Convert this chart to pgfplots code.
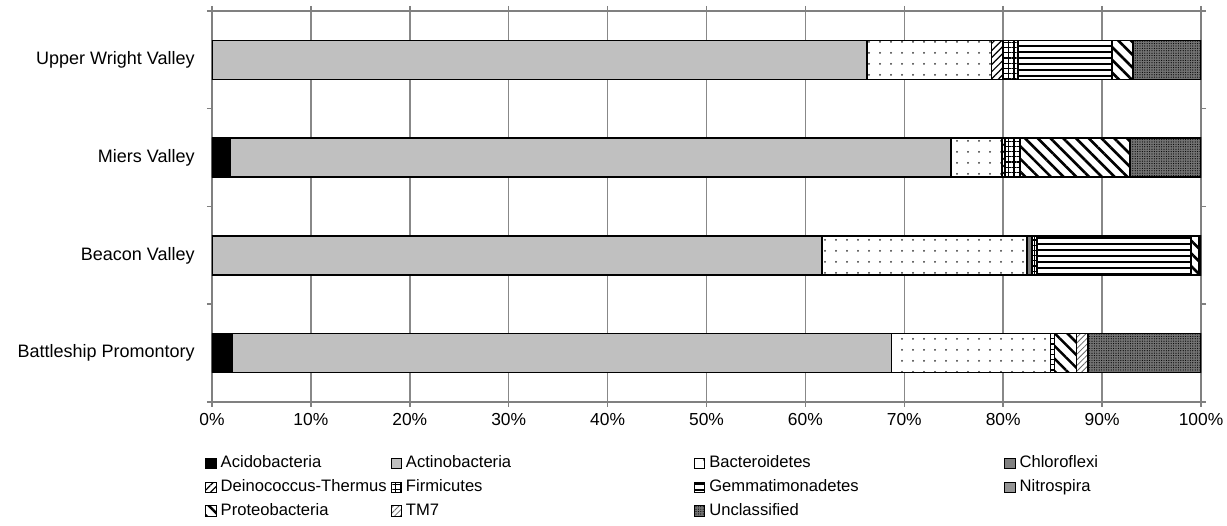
\documentclass[border=0pt]{standalone}
\usepackage{fontspec}
\setmainfont{Liberation Sans}
\usepackage{pgfplots}
\pgfplotsset{compat=1.18}
\usetikzlibrary{patterns,patterns.meta}
\definecolor{axisgray}{HTML}{808080}
\definecolor{gridgray}{HTML}{888888}
\definecolor{actino}{HTML}{C0C0C0}
\pgfplotsset{
  mybar/.style={draw=black, line width=0.8pt,
    legend image code/.code={\draw[##1, line width=0.5pt] (0pt,-2.6pt) rectangle (5.2pt,2.6pt); \path (7pt,0pt);}},
}
\begin{document}
\begin{tikzpicture}
\begin{axis}[name=ax,
  xbar stacked, scale only axis, width=494.5pt, height=195.5pt,
  xmin=0, xmax=100, ymin=-0.5, ymax=3.5, bar width=0.4,
  axis line style={draw=axisgray, line width=0.75pt},
  xtick={0,10,...,100},
  xticklabels={0\%,10\%,20\%,30\%,40\%,50\%,60\%,70\%,80\%,90\%,100\%},
  xticklabel style={font=\fontsize{8.7}{10}\selectfont, inner sep=0pt, yshift=-3pt},
  tick align=outside, major tick length=2.5pt,
  tick style={draw=axisgray, line width=0.75pt},
  xmajorgrids, major grid style={draw=gridgray, line width=0.75pt},
  ytick={-0.5,0.5,1.5,2.5,3.5}, yticklabels={},
  extra y ticks={0,1,2,3},
  extra y tick labels={Battleship Promontory, Beacon Valley, Miers Valley, Upper Wright Valley},
  extra y tick style={major tick length=0pt, grid=none,
    yticklabel style={font=\fontsize{9}{11}\selectfont, inner sep=0pt, xshift=-8.5pt}},
  legend columns=4, legend cell align=left,
  legend style={at={(0,0)}, anchor=north west, xshift=-3.5pt, yshift=-26.5pt,
    draw=none, inner sep=0pt, row sep=3.7pt, column sep=0pt,
    font=\fontsize{8.3}{10}\selectfont,
    nodes={inner sep=0pt, text height=6.3pt, text depth=1.9pt}},
]
% Acidobacteria
\addplot[mybar, fill=black] coordinates {(2.0,0) (0,1) (1.8,2) (0,3)};
\addlegendentry{\makebox[85pt][l]{Acidobacteria}}
% Actinobacteria
\addplot[mybar, fill=actino] coordinates {(66.7,0) (61.7,1) (72.9,2) (66.2,3)};
\addlegendentry{\makebox[144pt][l]{Actinobacteria}}
% Bacteroidetes
\addplot[mybar, fill=white, postaction={pattern={Dots[distance=5.5pt, radius=0.5pt]}, pattern color=black!80}] coordinates {(16.1,0) (20.7,1) (5.2,2) (12.6,3)};
\addlegendentry{\makebox[147.5pt][l]{Bacteroidetes}}
% Chloroflexi
\addplot[mybar, fill=black!50] coordinates {(0,0) (0.5,1) (0,2) (0,3)};
\addlegendentry{Chloroflexi}
% Deinococcus-Thermus
\addplot[mybar, fill=white, postaction={pattern={Lines[angle=45, distance=2.5pt, line width=0.6pt]}}] coordinates {(0,0) (0,1) (0.3,2) (1.2,3)};
\addlegendentry{\makebox[85pt][l]{Deinococcus-Thermus}}
% Firmicutes
\addplot[mybar, fill=white, postaction={pattern={Hatch[angle=0, distance=2.6pt, line width=0.55pt]}}] coordinates {(0.4,0) (0.5,1) (1.5,2) (1.5,3)};
\addlegendentry{\makebox[144pt][l]{Firmicutes}}
% Gemmatimonadetes
\addplot[mybar, fill=white, postaction={pattern={Lines[angle=0, distance=3pt, line width=1pt]}}] coordinates {(0,0) (15.6,1) (0,2) (9.5,3)};
\addlegendentry{\makebox[147.5pt][l]{Gemmatimonadetes}}
% Nitrospira
\addplot[mybar, fill=black!42] coordinates {(0,0) (0,1) (0,2) (0,3)};
\addlegendentry{Nitrospira}
% Proteobacteria
\addplot[mybar, fill=white, postaction={pattern={Lines[angle=-45, distance=4.5pt, line width=1.3pt]}}] coordinates {(2.2,0) (0.8,1) (11.1,2) (2.1,3)};
\addlegendentry{\makebox[85pt][l]{Proteobacteria}}
% TM7
\addplot[mybar, fill=white, postaction={pattern={Lines[angle=45, distance=2pt, line width=0.4pt]}, pattern color=black!60}] coordinates {(1.2,0) (0,1) (0,2) (0,3)};
\addlegendentry{\makebox[144pt][l]{TM7}}
% Unclassified
\addplot[mybar, fill=black!55, postaction={pattern={Dots[distance=1.2pt, radius=0.3pt]}}] coordinates {(11.4,0) (0.2,1) (7.2,2) (6.9,3)};
\addlegendentry{\makebox[147.5pt][l]{Unclassified}}
\end{axis}
\pgfresetboundingbox
\path[use as bounding box] ([xshift=-106pt,yshift=-62pt]ax.south west) rectangle ([xshift=13pt,yshift=5.5pt]ax.north east);
\end{tikzpicture}
\end{document}
